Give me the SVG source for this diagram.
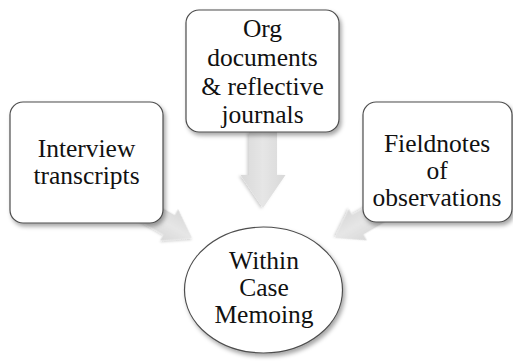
<svg xmlns="http://www.w3.org/2000/svg" width="513" height="364" viewBox="0 0 513 364">
  <defs>
    <filter id="shadow" x="-20%" y="-20%" width="140%" height="140%">
      <feDropShadow dx="2" dy="3" stdDeviation="2" flood-color="#000" flood-opacity="0.35"/>
    </filter>
    <filter id="arrowShadow" x="-20%" y="-20%" width="140%" height="140%">
      <feDropShadow dx="1" dy="2" stdDeviation="1.5" flood-color="#000" flood-opacity="0.18"/>
    </filter>
    <linearGradient id="arrowFill" x1="0" y1="0" x2="0" y2="1">
      <stop offset="0" stop-color="#d8d8d8"/>
      <stop offset="0.5" stop-color="#e6e6e6"/>
      <stop offset="1" stop-color="#d8d8d8"/>
    </linearGradient>
    <!-- block arrow pointing along +x, tip at origin -->
    <polygon id="blockArrow" points="-76,-14 -33,-14 -33,-22.5 0,0 -33,22.5 -33,14 -76,14"/>
  </defs>
  <style>
    .box { fill: #ffffff; stroke: #4d4d4d; stroke-width: 1.2; filter: url(#shadow); }
    .arrow { fill: url(#arrowFill); filter: url(#arrowShadow); }
    text { font-size: 25.5px; fill: #111111; text-anchor: middle; }
  </style>

  <g id="connectors">
    <use href="#blockArrow" class="arrow" transform="translate(263,208) rotate(90)"/>
    <use href="#blockArrow" class="arrow" transform="translate(192,238) rotate(30) scale(0.8)"/>
    <use href="#blockArrow" class="arrow" transform="translate(335,238) rotate(150) scale(0.8)"/>
  </g>

  <g id="interview">
    <rect class="box" x="10" y="102" width="153" height="121" rx="13"/>
    <text font-family="Liberation Serif" x="86.5" y="157">Interview</text>
    <text font-family="Liberation Serif" x="86.5" y="184">transcripts</text>
  </g>

  <g id="org-documents">
    <rect class="box" x="186" y="10" width="153" height="122" rx="13"/>
    <text font-family="Liberation Serif" x="262.5" y="37">Org</text>
    <text font-family="Liberation Serif" x="262.5" y="66">documents</text>
    <text font-family="Liberation Serif" x="262.5" y="95">&amp; reflective</text>
    <text font-family="Liberation Serif" x="262.5" y="123">journals</text>
  </g>

  <g id="fieldnotes">
    <rect class="box" x="363" y="102" width="149" height="120" rx="13"/>
    <text font-family="Liberation Serif" x="437" y="152">Fieldnotes</text>
    <text font-family="Liberation Serif" x="437" y="179">of</text>
    <text font-family="Liberation Serif" x="437" y="206">observations</text>
  </g>

  <g id="memoing">
    <ellipse class="box" cx="263.5" cy="290" rx="79" ry="63"/>
    <text font-family="Liberation Serif" x="264" y="269">Within</text>
    <text font-family="Liberation Serif" x="264" y="296">Case</text>
    <text font-family="Liberation Serif" x="264" y="323">Memoing</text>
  </g>
</svg>
